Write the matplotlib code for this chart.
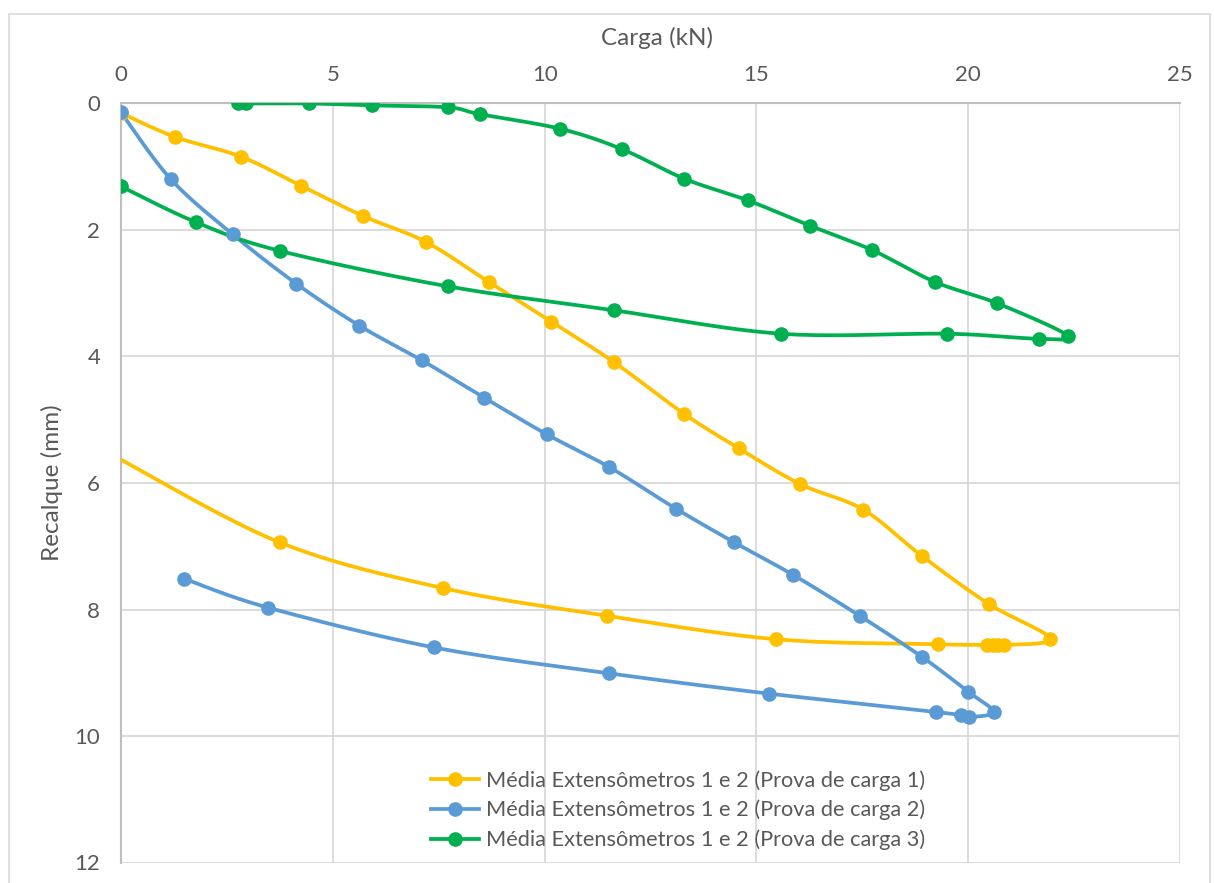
import numpy as np
import matplotlib
matplotlib.use("Agg")
import matplotlib.pyplot as plt
from matplotlib.patches import Rectangle

plt.rcParams['font.family'] = ['Lato', 'DejaVu Sans']

# carga (kN) x recalque (mm), loading then unloading
carga_1 = [0.0, 1.28, 2.83, 4.25, 5.72, 7.20, 8.68, 10.16, 11.64, 13.30, 14.58,
           16.04, 17.52, 18.90, 20.48, 21.94, 20.85, 20.70, 20.58, 20.45, 19.29,
           15.46, 11.48, 7.59, 3.75, 0.0]
recalque_1 = [0.15, 0.53, 0.84, 1.30, 1.78, 2.19, 2.82, 3.45, 4.09, 4.91, 5.45,
              6.02, 6.42, 7.15, 7.91, 8.46, 8.56, 8.56, 8.56, 8.56, 8.55,
              8.47, 8.10, 7.66, 6.94, 5.63]

carga_2 = [0.0, 1.18, 2.64, 4.14, 5.62, 7.10, 8.57, 10.05, 11.53, 13.11, 14.48,
           15.86, 17.44, 18.91, 20.00, 20.60, 20.01, 19.82, 19.23, 15.29, 11.53,
           7.39, 3.47, 1.48]
recalque_2 = [0.14, 1.20, 2.07, 2.85, 3.51, 4.06, 4.65, 5.23, 5.75, 6.41, 6.94,
              7.45, 8.10, 8.75, 9.30, 9.62, 9.70, 9.67, 9.62, 9.33, 9.01,
              8.60, 7.97, 7.51]

carga_3 = [2.76, 2.96, 4.44, 5.92, 7.71, 8.48, 10.37, 11.82, 13.30, 14.79, 16.26,
           17.74, 19.21, 20.69, 22.35, 21.67, 19.51, 15.58, 11.64, 7.71, 3.75,
           1.78, 0.0]
recalque_3 = [0.0, 0.0, 0.0, 0.03, 0.06, 0.17, 0.40, 0.72, 1.19, 1.53, 1.93,
              2.32, 2.82, 3.16, 3.67, 3.72, 3.64, 3.64, 3.27, 2.89, 2.33,
              1.88, 1.31]

labels = ['Média Extensômetros 1 e 2 (Prova de carga 1)',
          'Média Extensômetros 1 e 2 (Prova de carga 2)',
          'Média Extensômetros 1 e 2 (Prova de carga 3)']
colors = ['#FFC000', '#5B9BD5', '#00B050']


def smooth(xs, ys, n=20):
    # Excel-like smoothed line (Catmull-Rom through the points)
    p = np.column_stack([xs, ys]).astype(float)
    p = np.vstack([p[0], p, p[-1]])
    out = []
    t = np.linspace(0, 1, n)[:, None]
    for i in range(1, len(p) - 2):
        p0, p1, p2, p3 = p[i - 1], p[i], p[i + 1], p[i + 2]
        b1 = p1 + (p2 - p0) / 6
        b2 = p2 - (p3 - p1) / 6
        seg = ((1 - t) ** 3) * p1 + 3 * ((1 - t) ** 2) * t * b1 + 3 * (1 - t) * t ** 2 * b2 + t ** 3 * p2
        out.append(seg if i == 1 else seg[1:])
    s = np.vstack(out)
    return s[:, 0], s[:, 1]


fig = plt.figure(figsize=(12.14, 8.83), dpi=100)
ax = fig.add_axes([121 / 1214, 1 - 862.5 / 883, 1059 / 1214, 759 / 883])

fig.patches.append(Rectangle((9 / 1214, -0.01), 1201 / 1214, 1 - 14 / 883 + 0.01,
                             transform=fig.transFigure, fill=False,
                             edgecolor='#d9d9d9', linewidth=1.2))

series = [(carga_1, recalque_1, False), (carga_2, recalque_2, True), (carga_3, recalque_3, True)]
for (xs, ys, last_marker), c, lab in zip(series, colors, labels):
    sx, sy = smooth(xs, ys)
    ax.plot(sx, sy, color=c, lw=2.7, solid_capstyle='round', zorder=3)
    mx = xs if last_marker else xs[:-1]
    my = ys if last_marker else ys[:-1]
    ax.plot(mx, my, 'o', color=c, ms=9.5, zorder=4)
    ax.plot([], [], '-o', color=c, lw=2.7, ms=9.5, label=lab)

ax.set_xlim(0, 25)
ax.set_ylim(12, 0)
ax.set_xticks(range(0, 26, 5))
ax.set_yticks(range(0, 13, 2))
ax.xaxis.tick_top()
ax.grid(True, color='#d9d9d9', lw=1.3)
ax.set_axisbelow(True)
for s in ['right', 'bottom']:
    ax.spines[s].set_visible(False)
for s in ['left', 'top']:
    ax.spines[s].set_color('#bfbfbf')
    ax.spines[s].set_linewidth(1.5)
ax.tick_params(axis='both', length=0, labelsize=16, labelcolor='#595959')
ax.tick_params(axis='x', pad=13)
ax.tick_params(axis='y', pad=15)

ax.set_xlabel('Carga (kN)', fontsize=17.5, color='#595959')
ax.xaxis.set_label_position('top')
ax.xaxis.set_label_coords(0.506, 1.077)
ax.set_ylabel('Recalque (mm)', fontsize=17.5, color='#595959')
ax.yaxis.set_label_coords(-0.055, 0.5)

ax.legend(loc='center', bbox_to_anchor=(0.526, 0.069), frameon=False, fontsize=15.7,
          labelcolor='#595959', handlelength=2.2, handletextpad=0.3, labelspacing=0.42)

fig.savefig('out.png', dpi=100)
